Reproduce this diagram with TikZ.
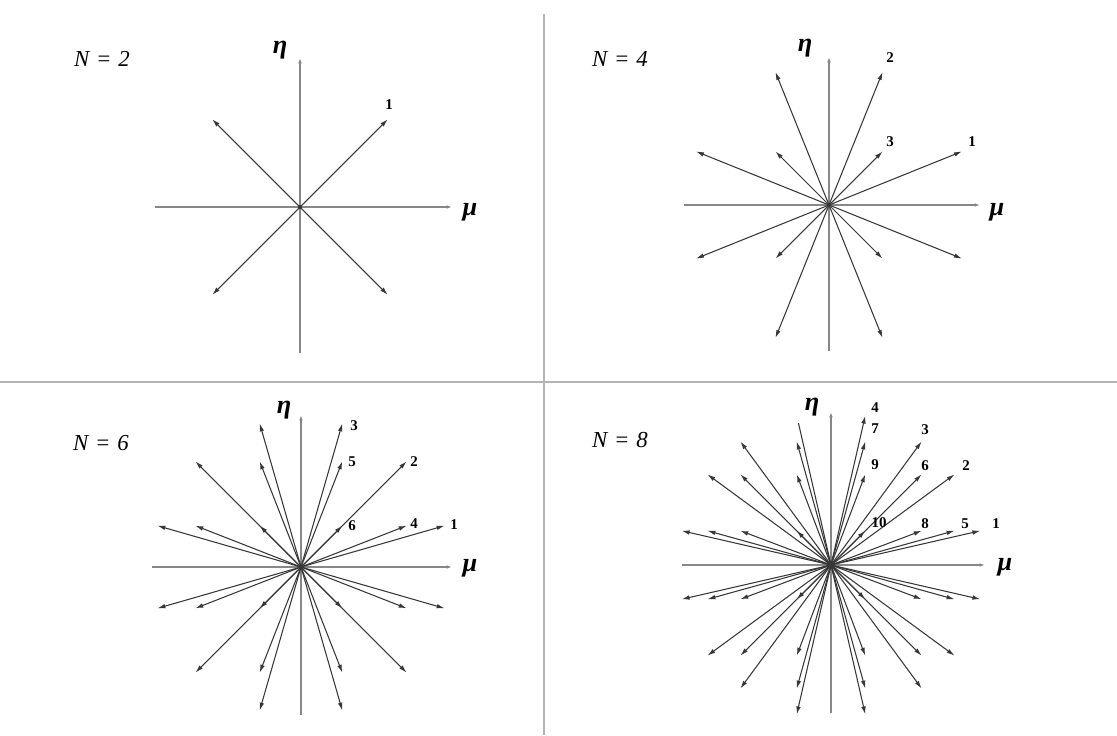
\documentclass[tikz,border=0pt]{standalone}
\usepackage{fontspec}
\setmainfont{Liberation Serif}
\usetikzlibrary{arrows.meta}
\definecolor{axisgray}{RGB}{135,135,135}
\definecolor{dirgray}{RGB}{55,55,55}
\definecolor{divgray}{RGB}{180,180,180}
\tikzset{
  % Bo'limlarni ajratuvchi chiziq
  divider/.style  = {line width=1.1pt, draw=divgray},
  % Koordinata o'qlari
  axisline/.style = {line width=0.9pt, draw=axisgray, -{Latex[length=3pt,width=2pt]}},
  % Yo'nalish vektorlari
  dirarrow/.style = {line width=0.6pt, draw=dirgray, -{Latex[length=4.5pt,width=2.6pt]}},
  dirplain/.style = {line width=0.6pt, draw=dirgray},
  % Etiketlar
  numlab/.style   = {font=\fontsize{8.5}{9}\selectfont\bfseries, inner sep=0pt},
  axlab/.style    = {font=\fontsize{15}{16}\selectfont\bfseries\itshape, inner sep=0pt},
  nlab/.style     = {font=\fontsize{13}{14}\selectfont\itshape, inner sep=0pt},
}
\begin{document}
\begin{tikzpicture}[x=0.02cm, y=-0.02cm]
  \useasboundingbox (0,0) rectangle (1117,735);
  % Ajratuvchi chiziqlar
  \draw[divider] (544,14) -- (544,735);
  \draw[divider] (0,382) -- (1117,382);

  % N = 2
  \begin{scope}[shift={(300,207)}, yscale=-1]
    \pgfmathsetmacro{\S}{152}
    \pgfmathsetmacro{\a}{0.5773503}
    \coordinate (O1) at (0,0);
    \coordinate (W1) at (-145,0);
    \coordinate (E1) at (152,0);
    \coordinate (B1) at (0,-146);
    \coordinate (T1) at (0,149);
    \draw[axisline] (W1) -- (E1);
    \draw[axisline] (B1) -- (T1);
    \foreach \sx/\sy in {1/1,-1/1,-1/-1,1/-1}{
      \coordinate (tip) at (\sx*\a*\S, \sy*\a*\S);
      \draw[dirarrow] (O1) -- (tip);
    }
    \fill[dirgray] (O1) circle (2);
  \end{scope}
  \node[nlab]   (N2)   at (102,59)  {N\hspace{0.3em}=\hspace{0.3em}2};
  \node[axlab]  (eta1) at (280,50)  {η};
  \node[axlab]  (mu1)  at (470,212) {μ};
  \node[numlab] (d21)  at (389,105) {1};

  % N = 4
  \begin{scope}[shift={(829,205)}, yscale=-1]
    \pgfmathsetmacro{\S}{153}
    \pgfmathsetmacro{\a}{0.3500212}
    \pgfmathsetmacro{\b}{0.8688903}
    \coordinate (O2) at (0,0);
    \coordinate (W2) at (-145,0);
    \coordinate (E2) at (151,0);
    \coordinate (B2) at (0,-146);
    \coordinate (T2) at (0,148);
    \draw[axisline] (W2) -- (E2);
    \draw[axisline] (B2) -- (T2);
    \foreach \m/\e in {\b/\a, \a/\b, \a/\a}{
      \foreach \sx/\sy in {1/1,-1/1,-1/-1,1/-1}{
        \coordinate (tip) at (\sx*\m*\S, \sy*\e*\S);
        \draw[dirarrow] (O2) -- (tip);
      }
    }
    \fill[dirgray] (O2) circle (2);
  \end{scope}
  \node[nlab]   (N4)   at (620,59)  {N\hspace{0.3em}=\hspace{0.3em}4};
  \node[axlab]  (eta2) at (805,48)  {η};
  \node[axlab]  (mu2)  at (997,212) {μ};
  \node[numlab] (d41)  at (972,142) {1};
  \node[numlab] (d42)  at (890,58)  {2};
  \node[numlab] (d43)  at (890,142) {3};

  % N = 6
  \begin{scope}[shift={(301,567)}, yscale=-1]
    \pgfmathsetmacro{\S}{155}
    \pgfmathsetmacro{\a}{0.2666355}
    \pgfmathsetmacro{\b}{0.6815076}
    \pgfmathsetmacro{\c}{0.9261808}
    \coordinate (O3) at (0,0);
    \coordinate (W3) at (-149,0);
    \coordinate (E3) at (151,0);
    \coordinate (B3) at (0,-148);
    \coordinate (T3) at (0,152);
    \draw[axisline] (W3) -- (E3);
    \draw[axisline] (B3) -- (T3);
    \foreach \m/\e in {\c/\a, \b/\b, \a/\c, \b/\a, \a/\b, \a/\a}{
      \foreach \sx/\sy in {1/1,-1/1,-1/-1,1/-1}{
        \coordinate (tip) at (\sx*\m*\S, \sy*\e*\S);
        \draw[dirarrow] (O3) -- (tip);
      }
    }
    \fill[dirgray] (O3) circle (2);
  \end{scope}
  \node[nlab]   (N6)   at (101,443) {N\hspace{0.3em}=\hspace{0.3em}6};
  \node[axlab]  (eta3) at (284,410) {η};
  \node[axlab]  (mu3)  at (470,568) {μ};
  \node[numlab] (d61)  at (454,525) {1};
  \node[numlab] (d62)  at (414,462) {2};
  \node[numlab] (d63)  at (354,426) {3};
  \node[numlab] (d64)  at (414,524) {4};
  \node[numlab] (d65)  at (352,462) {5};
  \node[numlab] (d66)  at (352,526) {6};

  % N = 8
  \begin{scope}[shift={(831,565)}, yscale=-1]
    \pgfmathsetmacro{\S}{157}
    \pgfmathsetmacro{\a}{0.2182179}
    \pgfmathsetmacro{\b}{0.5773503}
    \pgfmathsetmacro{\c}{0.7867958}
    \pgfmathsetmacro{\d}{0.9511897}
    \coordinate (O4) at (0,0);
    \coordinate (W4) at (-149,0);
    \coordinate (E4) at (154,0);
    \coordinate (B4) at (0,-148);
    \coordinate (T4) at (0,153);
    \draw[axisline] (W4) -- (E4);
    \draw[axisline] (B4) -- (T4);
    \foreach \m/\e in {\d/\a, \c/\b, \b/\c, \a/\d, \c/\a, \b/\b, \a/\c, \b/\a, \a/\b, \a/\a}{
      \foreach \sx/\sy in {1/1,-1/-1,1/-1}{
        \coordinate (tip) at (\sx*\m*\S, \sy*\e*\S);
        \draw[dirarrow] (O4) -- (tip);
      }
    }
    \foreach \m/\e in {\d/\a, \c/\b, \b/\c, \c/\a, \b/\b, \a/\c, \b/\a, \a/\b, \a/\a}{
      \coordinate (tip) at (-\m*\S, \e*\S);
      \draw[dirarrow] (O4) -- (tip);
    }
    \coordinate (tipq) at (-0.95*\a*\S, 0.95*\d*\S);
    \draw[dirplain] (O4) -- (tipq);
    \fill[dirgray] (O4) circle (2);
  \end{scope}
  \node[nlab]   (N8)   at (620,440)  {N\hspace{0.3em}=\hspace{0.3em}8};
  \node[axlab]  (eta4) at (812,407)  {η};
  \node[axlab]  (mu4)  at (1005,567) {μ};
  \node[numlab] (d81)  at (996,524)  {1};
  \node[numlab] (d82)  at (966,466)  {2};
  \node[numlab] (d83)  at (925,430)  {3};
  \node[numlab] (d84)  at (875,408)  {4};
  \node[numlab] (d85)  at (965,524)  {5};
  \node[numlab] (d86)  at (925,466)  {6};
  \node[numlab] (d87)  at (875,429)  {7};
  \node[numlab] (d88)  at (925,524)  {8};
  \node[numlab] (d89)  at (875,465)  {9};
  \node[numlab] (d810) at (879,523)  {10};
\end{tikzpicture}
\end{document}
